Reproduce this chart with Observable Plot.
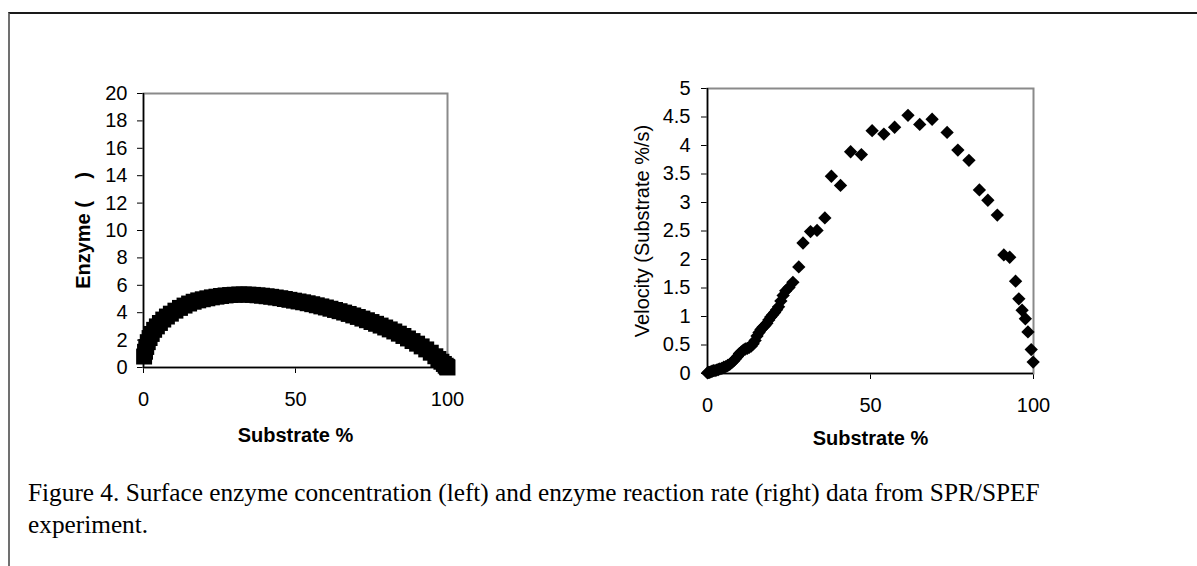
<!DOCTYPE html>
<html><head><meta charset="utf-8">
<script src="https://cdn.jsdelivr.net/npm/d3@7"></script>
<script src="https://cdn.jsdelivr.net/npm/@observablehq/plot@0.6"></script>
<style>
body{margin:0;background:#fff;}
#wrap{position:relative;width:1197px;height:566px;overflow:hidden;background:#fff;}
#border{position:absolute;left:8px;top:12px;right:-4px;bottom:-4px;border-top:2px solid #1a1a1a;border-left:2px solid #707070;}
#left{position:absolute;left:0;top:0;width:480px;height:420px;}
#right{position:absolute;left:560px;top:0;width:520px;height:430px;}
#caption{position:absolute;left:28px;top:477px;font-family:"Liberation Serif","Times New Roman",serif;font-size:25.3px;line-height:31.5px;color:#000;white-space:nowrap;}
</style></head>
<body><div id="wrap"><div id="border"></div><div id="left"></div><div id="right"></div><div id="caption"></div></div>
<script>
// ---- data ----
const xTicks = [0, 50, 100];
const enzymeTicks = [0, 2, 4, 6, 8, 10, 12, 14, 16, 18, 20];
const velocityTicks = [0, 0.5, 1, 1.5, 2, 2.5, 3, 3.5, 4, 4.5, 5];

const enzymeSubstrate = [0.2,0.5,0.9,1.4,2,2.7,3.5,4.4,5.4,6.5,7.7,9,10.5,12,13.5,15,16.5,18,19.5,21,22.5,24,25.5,27,28.5,30,31.5,33,34.5,36,37.5,39,40.5,42,43.5,45,46.5,48,49.5,51,52.5,54,55.5,57,58.5,60,61.5,63,64.5,66,67.5,69,70.5,72,73.5,75,76.5,78,79.5,81,82.5,84,85.5,87,88.5,90,91.5,93,94.5,96,97,98,98.8,99.4,99.8,100];
const enzymeValue = [0.8,1.15,1.5,1.85,2.15,2.45,2.75,3.0,3.25,3.5,3.72,3.93,4.15,4.35,4.52,4.67,4.8,4.9,4.98,5.05,5.12,5.17,5.22,5.26,5.29,5.31,5.33,5.33,5.32,5.3,5.27,5.24,5.2,5.16,5.11,5.06,5.0,4.94,4.88,4.82,4.76,4.69,4.62,4.54,4.46,4.38,4.29,4.2,4.11,4.01,3.91,3.8,3.69,3.57,3.45,3.32,3.19,3.06,2.92,2.78,2.63,2.47,2.3,2.12,1.93,1.74,1.54,1.32,1.08,0.82,0.62,0.42,0.26,0.13,0.05,0.0];

const velocitySubstrate = [0,0.3,0.6,1,1.4,1.8,2.3,2.8,3.3,3.8,4.4,5,5.6,6.2,6.8,7.4,8,8.6,9.2,9.8,10.4,11,11.6,12.2,12.8,13.4,14,14.6,15.2,15.8,16.4,17,17.6,18.2,18.8,19.4,20,20.6,21.2,21.8,22.5,23.2,24,25,26.2,28,29.3,31.6,33.6,36,38,40.8,43.9,47.2,50.5,54.1,57.4,61.5,65.1,68.9,73.5,76.8,80.2,83.4,86,88.9,90.9,92.7,94.5,95.5,96.5,97.5,98.3,99.3,99.9];
const velocityValue = [0.01,0.02,0.02,0.03,0.04,0.05,0.05,0.06,0.07,0.08,0.09,0.11,0.12,0.14,0.16,0.19,0.22,0.26,0.3,0.35,0.38,0.41,0.43,0.44,0.46,0.48,0.52,0.58,0.66,0.72,0.77,0.81,0.84,0.88,0.94,0.99,1.03,1.07,1.12,1.17,1.27,1.37,1.45,1.51,1.6,1.87,2.29,2.49,2.51,2.73,3.46,3.3,3.89,3.84,4.26,4.2,4.32,4.53,4.37,4.46,4.23,3.92,3.74,3.22,3.04,2.78,2.08,2.04,1.62,1.31,1.11,0.96,0.73,0.42,0.2];

const leftData = enzymeSubstrate.map((x, i) => ({x, y: enzymeValue[i]}));
const rightData = velocitySubstrate.map((x, i) => ({x, y: velocityValue[i]}));

const baseStyle = {fontFamily: "'Liberation Sans', Arial, sans-serif", fontSize: "20px", color: "black", background: "transparent", overflow: "visible"};
const fmt = d => String(d);

const left = Plot.plot({
  width: 480, height: 420,
  marginLeft: 143, marginRight: 33, marginTop: 93, marginBottom: 53,
  style: baseStyle,
  x: {domain: [0, 100], ticks: xTicks, tickFormat: fmt, tickSize: 6, tickPadding: 18, label: null},
  y: {domain: [0, 20], ticks: enzymeTicks, tickFormat: fmt, tickSize: 6, tickPadding: 10, label: null},
  marks: [
    Plot.frame({stroke: "#8a8a8a", strokeWidth: 2}),
    Plot.ruleX([0], {stroke: "black", strokeWidth: 1.5}),
    Plot.ruleY([0], {stroke: "black", strokeWidth: 1.5}),
    Plot.dot(leftData, {x: "x", y: "y", symbol: "square", r: 9, fill: "black", stroke: "none"}),
    Plot.text(["Substrate %"], {text: d => d, frameAnchor: "bottom", textAnchor: "middle", dy: 68, fontWeight: "bold", fontSize: 20, lineAnchor: "middle", fill: "black"}),
    Plot.text(["Enzyme (\u00a0\u00a0\u00a0\u00a0)"], {text: d => d, frameAnchor: "left", textAnchor: "middle", dx: -60, rotate: -90, fontWeight: "bold", fontSize: 20, lineAnchor: "middle", fill: "black"})
  ]
});
document.getElementById("left").appendChild(left);

const diamond = (d3.symbolDiamond2) ? d3.symbolDiamond2 : "diamond";
const right = Plot.plot({
  width: 520, height: 430,
  marginLeft: 147, marginRight: 47, marginTop: 88, marginBottom: 57,
  style: baseStyle,
  x: {domain: [0, 100], ticks: xTicks, tickFormat: fmt, tickSize: 6, tickPadding: 18, label: null},
  y: {domain: [0, 5], ticks: velocityTicks, tickFormat: fmt, tickSize: 6, tickPadding: 11, label: null},
  marks: [
    Plot.frame({stroke: "#8a8a8a", strokeWidth: 2}),
    Plot.ruleX([0], {stroke: "black", strokeWidth: 1.5}),
    Plot.ruleY([0], {stroke: "black", strokeWidth: 1.5}),
    Plot.dot(rightData, {x: "x", y: "y", symbol: diamond, r: 6, fill: "black", stroke: "none"}),
    Plot.text(["Substrate %"], {text: d => d, frameAnchor: "bottom", textAnchor: "middle", dy: 65, fontWeight: "bold", fontSize: 20, lineAnchor: "middle", fill: "black"}),
    Plot.text(["Velocity (Substrate %/s)"], {text: d => d, frameAnchor: "left", textAnchor: "middle", dx: -65, rotate: -90, fontSize: 20, lineAnchor: "middle", fill: "black"})
  ]
});
document.getElementById("right").appendChild(right);

document.getElementById("caption").innerHTML =
  "Figure 4. Surface enzyme concentration (left) and enzyme reaction rate (right) data from SPR/SPEF<br>experiment.";
</script>
</body></html>
